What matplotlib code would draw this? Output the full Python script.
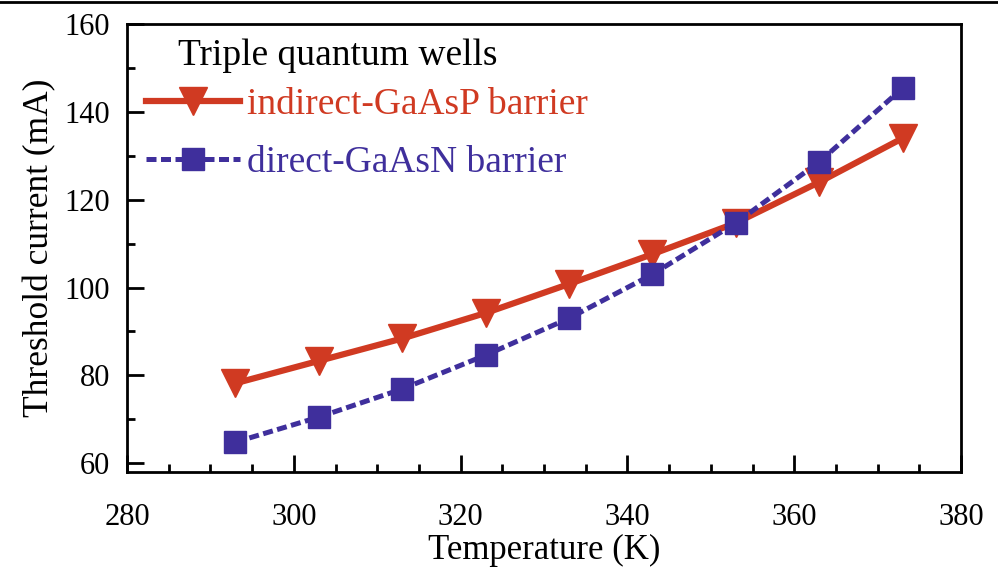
import matplotlib
matplotlib.use("Agg")
import matplotlib.pyplot as plt
from matplotlib.ticker import MultipleLocator

temperature = [293, 303, 313, 323, 333, 343, 353, 363, 373]
indirect_gaasp = [78.2, 83.3, 88.4, 94.2, 100.8, 107.6, 114.7, 124.0, 134.0]
direct_gaasn = [64.8, 70.5, 76.9, 84.6, 93.0, 103.0, 114.7, 128.6, 145.4]

red = "#d03a22"
blue = "#3f2f9c"

plt.rcParams['font.family'] = ['Liberation Serif', 'DejaVu Serif']
fig = plt.figure(figsize=(9.98, 5.81), dpi=100)
ax = fig.add_axes([127/998, 1-472/581, (961-127)/998, (472-24)/581])

ax.plot(temperature, indirect_gaasp, '-', color=red, lw=4.5, marker='v', ms=20,
        label='indirect-GaAsP barrier')
ax.plot(temperature, direct_gaasn, '--', color=blue, lw=3.6, marker='s', ms=16.5,
        dashes=(2.0, 0.9), label='direct-GaAsN barrier')

ax.set_xlim(280, 380)
ax.set_ylim(58, 160)
ax.xaxis.set_major_locator(MultipleLocator(20))
ax.xaxis.set_minor_locator(MultipleLocator(5))
ax.yaxis.set_major_locator(MultipleLocator(20))
ax.yaxis.set_minor_locator(MultipleLocator(10))
ax.tick_params(which='both', direction='in', top=False, right=False, width=2, labelsize=22)
ax.tick_params(which='major', length=12)
ax.tick_params(which='minor', length=6)
ax.tick_params(axis='x', which='major', pad=22)
ax.tick_params(axis='y', which='major', pad=12)
for s in ax.spines.values():
    s.set_linewidth(2)

ax.set_xlabel('Temperature (K)', fontsize=25, labelpad=2)
ax.set_ylabel('Threshold current (mA)', fontsize=25.5, labelpad=6)

ax.text(178/998, 1-56/581, 'Triple quantum wells', transform=fig.transFigure,
        fontsize=27, ha='left', va='center')

leg = ax.legend(loc='upper left', bbox_to_anchor=(0.014, 0.875), frameon=False,
                fontsize=27, labelcolor='linecolor', handlelength=2.5, handletextpad=0.2,
                labelspacing=0.62, borderaxespad=0.0, borderpad=0.2, numpoints=1)

fig.add_artist(plt.Line2D([0, 1], [0.997, 0.997], color='black', lw=2, transform=fig.transFigure))

fig.savefig('out.png', dpi=100)
